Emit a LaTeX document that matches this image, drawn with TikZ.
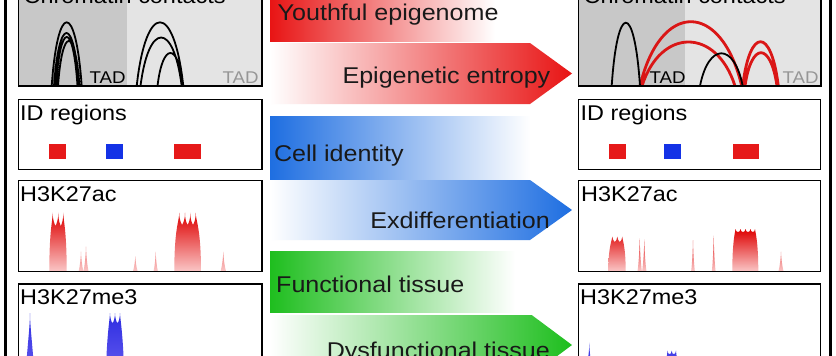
\documentclass[tikz,border=0pt]{standalone}
\usepackage{fontspec}
\setmainfont{Liberation Sans}[FakeStretch=1.1]
\definecolor{cred}{RGB}{232,20,20}
\definecolor{cblue}{RGB}{30,110,225}
\definecolor{cgreen}{RGB}{30,190,30}
\definecolor{sqred}{RGB}{230,25,25}
\definecolor{sqblue}{RGB}{20,50,230}
\definecolor{gdark}{RGB}{200,200,200}
\definecolor{glight}{RGB}{228,228,228}
\definecolor{pkred}{RGB}{222,0,0}
\definecolor{pkpink}{RGB}{250,200,200}
\definecolor{pkblue}{RGB}{45,45,225}
\definecolor{pkblue2}{RGB}{105,95,240}
\definecolor{arcred}{RGB}{218,22,22}
\definecolor{txt}{RGB}{25,25,25}
\definecolor{tadgray}{RGB}{150,150,150}
\newcommand{\carc}[3]{(#1,86) .. controls ({#1+0.2*(#2-#1)},{86-(86-#3)/0.75}) and ({#2-0.2*(#2-#1)},{86-(86-#3)/0.75}) .. (#2,86)}
\newcommand{\spk}[4]{({#1-#2},#4) .. controls +({0.6*#2},{-0.3*(#4-#3)}) and +({-0.08*#2},{0.3*(#4-#3)}) .. (#1,#3) .. controls +({0.08*#2},{0.3*(#4-#3)}) and +({-0.6*#2},{-0.3*(#4-#3)}) .. ({#1+#2},#4) -- cycle}
\begin{document}
\begin{tikzpicture}[x=1pt,y=-1pt,
  panel/.style={draw=black, line width=1.5},
  lbl/.style={anchor=base west, inner sep=0, font=\fontsize{21.3}{25}\selectfont},
  arrtxt/.style={inner sep=0, font=\fontsize{22.8}{27}\selectfont, text=txt},
  tad/.style={inner sep=0, font=\fontsize{17}{19}\selectfont},
  blk/.style={line width=1.8, black},
  redarc/.style={line width=2.8, arcred},
  acshade/.style={top color=pkred, bottom color=pkpink},
  meshade/.style={top color=pkblue, bottom color=pkblue2}]
\useasboundingbox (0,0) rectangle (836,356);
\clip (0,0) rectangle (836,356);
\fill[white] (0,0) rectangle (836,356);
% outer frame
\draw[line width=3] (5.5,-20) rectangle (830,380);

% ===== left chromatin contacts =====
\fill[gdark] (18.3,-20) rectangle (126.7,86);
\fill[glight] (126.7,-20) rectangle (262,86);
\draw[blk] \carc{51.7}{81.7}{22.3} \carc{54}{79}{33} \carc{56}{77.5}{37} \carc{58}{79.5}{41};
\draw[blk] \carc{136.7}{183.3}{22.3} \carc{140.5}{181.7}{37.5} \carc{157.5}{183.3}{53};
\node[tad, anchor=base west] (tadL1) at (89.5,83.3) {TAD};
\node[tad, anchor=base east, text=tadgray] (tadL2) at (258.8,83.3) {TAD};
\draw[panel] (18.3,-20) rectangle (262,86);
\node[lbl] (ccL) at (23.5,3.3) {Chromatin contacts};

% ===== right chromatin contacts =====
\fill[gdark] (578.3,-20) rectangle (685,86);
\fill[glight] (685,-20) rectangle (821,86);
\draw[redarc] \carc{640}{741.7}{21.7} \carc{642}{735}{42} \carc{742.7}{778.3}{41.7} \carc{745}{777}{52.7};
\draw[blk] \carc{611.7}{640}{22.7} \carc{700}{742.7}{53.3};
\node[tad, anchor=base west] (tadR1) at (649.5,83.3) {TAD};
\node[tad, anchor=base east, text=tadgray] (tadR2) at (818.8,83.3) {TAD};
\draw[panel] (578.3,-20) rectangle (821,86);
\node[lbl] (ccR) at (583.5,3.3) {Chromatin contacts};

% ===== ID regions =====
\draw[panel] (18.3,99.3) rectangle (262,169.3);
\node[lbl] (idL) at (20,120.7) {ID regions};
\fill[sqred] (49.3,144.3) rectangle (66,159.3);
\fill[sqblue] (106,144.3) rectangle (122.7,159.3);
\fill[sqred] (174,144.3) rectangle (200.7,159.3);
\draw[panel] (578.3,99.3) rectangle (820.5,169.3);
\node[lbl] (idR) at (580.5,120.7) {ID regions};
\fill[sqred] (609,144.3) rectangle (625.7,159.3);
\fill[sqblue] (664.3,144.3) rectangle (681,159.3);
\fill[sqred] (732.7,144.3) rectangle (759.3,159.3);

% ===== H3K27ac left =====
\shade[acshade]
 (49.3,271.7) .. controls +(0,-42) and +(0,8) .. (52.7,212.7)
 .. controls +(0,8) and +(-0.8,-2) .. (55.5,226)
 .. controls +(0.8,-2) and +(0,8) .. (58.3,212.7)
 .. controls +(0,8) and +(-0.8,-2) .. (60.8,226)
 .. controls +(0.8,-2) and +(0,8) .. (63.3,212.7)
 .. controls +(0,8) and +(0,-42) .. (66.7,271.7) -- cycle
 (174.3,271.7) .. controls +(0,-44) and +(0,8) .. (179.3,212.7)
 .. controls +(0,8) and +(-0.8,-2) .. (182.1,225)
 .. controls +(0.8,-2) and +(0,8) .. (185,212.7)
 .. controls +(0,8) and +(-0.8,-2) .. (187.6,225)
 .. controls +(0.8,-2) and +(0,8) .. (190.3,212.7)
 .. controls +(0,8) and +(-0.8,-2) .. (193,225)
 .. controls +(0.8,-2) and +(0,8) .. (195.7,212.7)
 .. controls +(0,8) and +(0,-44) .. (201,271.7) -- cycle
 \spk{81}{2.4}{251.7}{271.7} \spk{86}{2.6}{246.7}{271.7}
 \spk{135.3}{2.4}{256}{271.7}
 \spk{155.7}{2.2}{251.7}{271.7}
 \spk{223.3}{2.8}{251.7}{271.7};
\draw[panel] (18.3,180.3) rectangle (262,271.7);
\node[lbl] (acL) at (20,201.7) {H3K27ac};

% ===== H3K27ac right =====
\shade[acshade]
 (608.3,271.7) .. controls +(0,-26) and +(0,3) .. (612.3,236.7)
 .. controls +(0,3) and +(-0.8,-1) .. (614.8,242)
 .. controls +(0.8,-1) and +(0,3) .. (617.3,236.7)
 .. controls +(0,3) and +(-0.8,-1) .. (619.8,242)
 .. controls +(0.8,-1) and +(0,3) .. (622.3,236.7)
 .. controls +(0,3) and +(0,-26) .. (625.7,271.7) -- cycle
 (732.3,271.7) .. controls +(0,-32) and +(0,2) .. (735.5,229)
 .. controls +(0,2) and +(-1,0) .. (738,232)
 .. controls +(1,0) and +(0,2) .. (740.5,229)
 .. controls +(0,2) and +(-1,0) .. (743,232)
 .. controls +(1,0) and +(0,2) .. (745.5,229)
 .. controls +(0,2) and +(-1,0) .. (748,232)
 .. controls +(1,0) and +(0,2) .. (750.5,229)
 .. controls +(0,2) and +(-1,0) .. (752.8,232)
 .. controls +(1,0) and +(0,2) .. (755,229)
 .. controls +(0,2) and +(0,-32) .. (758.3,271.7) -- cycle
 \spk{639.7}{2.2}{238.3}{271.7} \spk{644.3}{2.2}{239.3}{271.7}
 \spk{693}{1.9}{240}{271.7}
 \spk{713.7}{1.9}{235.7}{271.7}
 \spk{781}{2.6}{251.7}{271.7};
\draw[panel] (578.3,180.7) rectangle (820.5,271.7);
\node[lbl] (acR) at (581,201.7) {H3K27ac};

% ===== H3K27me3 left =====
\shade[meshade]
 (25,380) .. controls (28,340) and (30,325) .. (30,313) .. controls (30,325) and (32,340) .. (35,380) -- cycle
 (106,380) .. controls +(0,-40) and +(0,5) .. (110,313)
 .. controls +(0,5) and +(-0.8,0) .. (112.5,323)
 .. controls +(0.8,0) and +(0,5) .. (115,313)
 .. controls +(0,5) and +(-0.8,0) .. (117.5,323)
 .. controls +(0.8,0) and +(0,5) .. (120,313)
 .. controls +(0,5) and +(0,-40) .. (124,380) -- cycle;
\draw[panel] (18.3,284) rectangle (262,400);
\node[lbl] (meL) at (20,304.3) {H3K27me3};

% ===== H3K27me3 right =====
\shade[meshade]
 (586.3,372) .. controls (588.5,355) and (589.3,350) .. (589.3,342.7) .. controls (589.3,350) and (590.1,355) .. (592.3,372) -- cycle
 (665.5,372) .. controls +(0,-12) and +(0,3) .. (667.5,350.7)
 .. controls +(0,3) and +(-0.6,0) .. (669.6,354)
 .. controls +(0.6,0) and +(0,3) .. (671.7,350.7)
 .. controls +(0,3) and +(-0.6,0) .. (673.8,354)
 .. controls +(0.6,0) and +(0,3) .. (676,350.7)
 .. controls +(0,3) and +(0,-12) .. (677.8,372) -- cycle;
\draw[panel] (578.3,284) rectangle (820.5,400);
\node[lbl] (meR) at (580,304.3) {H3K27me3};

% ===== middle arrows =====
\shade[left color=cred, right color=white] (270,-20) rectangle (495,41.7);
\shade[left color=white, right color=cred] (270,43) -- (530,43) -- (572,73.5) -- (530,104) -- (270,104) -- cycle;
\shade[left color=cblue, right color=white] (270,116) rectangle (530,179);
\shade[left color=white, right color=cblue] (270,180) -- (530,180) -- (572,210) -- (530,240) -- (270,240) -- cycle;
\shade[left color=cgreen, right color=white] (270,251.7) rectangle (515,312.7);
\shade[left color=white, right color=cgreen] (270,315) -- (531.7,315) -- (572,345) -- (531.7,375) -- (270,375) -- cycle;

\node[arrtxt, anchor=base west] (t1) at (277.5,20.7) {Youthful epigenome};
\node[arrtxt, anchor=base east] (t2) at (550.5,83.3) {Epigenetic entropy};
\node[arrtxt, anchor=base west] (t3) at (273.8,161.7) {Cell identity};
\node[arrtxt, anchor=base east] (t4) at (550,228.3) {Exdifferentiation};
\node[arrtxt, anchor=base west] (t5) at (276,292.7) {Functional tissue};
\node[arrtxt, anchor=base east] (t6) at (550,358.3) {Dysfunctional tissue};
\end{tikzpicture}
\end{document}
